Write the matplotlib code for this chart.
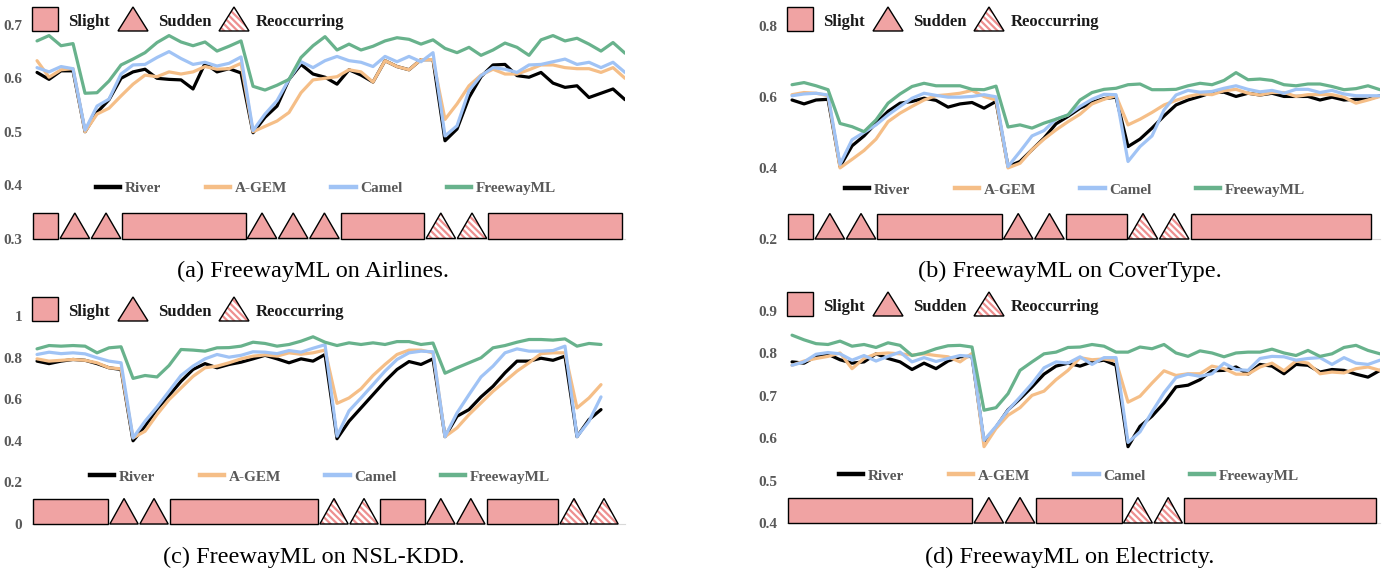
import matplotlib
matplotlib.use('Agg')
import matplotlib.pyplot as plt
from matplotlib.patches import Polygon
from matplotlib.lines import Line2D

plt.rcParams['font.family'] = ['Liberation Serif', 'DejaVu Serif']
plt.rcParams['hatch.linewidth'] = 1.6

# ---------------- data ----------------
SERIES = ['River', 'A-GEM', 'Camel', 'FreewayML']
COLORS = ['#000000', '#F5BE87', '#A0C3F5', '#68B28C']
DRIFT_LABELS = ['Slight', 'Sudden', 'Reoccurring']

# (a) Airlines
a_river = [0.611, 0.598, 0.614, 0.614, 0.500, 0.536, 0.560, 0.600, 0.612, 0.617,
           0.600, 0.598, 0.597, 0.580, 0.628, 0.612, 0.618, 0.610, 0.498, 0.527,
           0.548, 0.598, 0.626, 0.608, 0.602, 0.589, 0.616, 0.606, 0.593, 0.633,
           0.622, 0.616, 0.635, 0.635, 0.483, 0.505, 0.564, 0.603, 0.625, 0.626,
           0.605, 0.602, 0.611, 0.591, 0.583, 0.586, 0.564, 0.572, 0.580, 0.560]
a_agem = [0.633, 0.602, 0.616, 0.618, 0.500, 0.533, 0.544, 0.567, 0.589, 0.606,
          0.603, 0.612, 0.608, 0.612, 0.622, 0.617, 0.618, 0.628, 0.500, 0.510,
          0.520, 0.536, 0.573, 0.597, 0.600, 0.603, 0.616, 0.612, 0.593, 0.633,
          0.622, 0.616, 0.635, 0.635, 0.523, 0.552, 0.586, 0.606, 0.617, 0.608,
          0.608, 0.616, 0.625, 0.625, 0.620, 0.618, 0.618, 0.611, 0.620, 0.600]
a_camel = [0.620, 0.612, 0.622, 0.618, 0.503, 0.548, 0.561, 0.608, 0.625, 0.626,
           0.639, 0.650, 0.637, 0.626, 0.630, 0.623, 0.628, 0.640, 0.502, 0.533,
           0.558, 0.598, 0.631, 0.620, 0.633, 0.641, 0.633, 0.630, 0.622, 0.641,
           0.631, 0.641, 0.631, 0.648, 0.492, 0.511, 0.577, 0.605, 0.620, 0.617,
           0.611, 0.625, 0.626, 0.631, 0.636, 0.626, 0.630, 0.620, 0.630, 0.611]
a_freeway = [0.670, 0.680, 0.661, 0.665, 0.572, 0.573, 0.595, 0.625, 0.636, 0.648,
             0.667, 0.680, 0.668, 0.661, 0.668, 0.651, 0.660, 0.670, 0.585, 0.578,
             0.587, 0.598, 0.639, 0.661, 0.678, 0.653, 0.664, 0.653, 0.660, 0.670,
             0.676, 0.673, 0.664, 0.672, 0.656, 0.648, 0.658, 0.643, 0.653, 0.666,
             0.658, 0.643, 0.672, 0.680, 0.670, 0.675, 0.664, 0.651, 0.667, 0.647]
a_drift_kinds = ['Slight', 'Sudden', 'Sudden', 'Slight', 'Sudden', 'Sudden', 'Sudden',
                 'Slight', 'Reoccurring', 'Reoccurring', 'Slight']
a_drift_len = [2.25, 2.6, 2.6, 10.4, 2.6, 2.6, 2.6, 7.1, 2.6, 2.6, 11.3]
a_ticks = [0.3, 0.4, 0.5, 0.6, 0.7]
a_ticklabels = ['0.3', '0.4', '0.5', '0.6', '0.7']

# (b) CoverType
b_river = [0.591, 0.580, 0.591, 0.593, 0.404, 0.462, 0.490, 0.526, 0.559, 0.582,
           0.587, 0.596, 0.590, 0.571, 0.580, 0.584, 0.568, 0.587, 0.404, 0.418,
           0.451, 0.484, 0.524, 0.545, 0.568, 0.584, 0.595, 0.599, 0.460, 0.481,
           0.512, 0.546, 0.577, 0.591, 0.601, 0.612, 0.613, 0.601, 0.610, 0.605,
           0.610, 0.601, 0.601, 0.601, 0.591, 0.599, 0.591, 0.593, 0.593, 0.603]
b_agem = [0.606, 0.612, 0.610, 0.603, 0.400, 0.424, 0.449, 0.481, 0.530, 0.554,
          0.573, 0.591, 0.603, 0.606, 0.610, 0.618, 0.601, 0.591, 0.400, 0.413,
          0.451, 0.481, 0.507, 0.530, 0.551, 0.580, 0.593, 0.603, 0.521, 0.537,
          0.556, 0.577, 0.590, 0.601, 0.608, 0.606, 0.617, 0.621, 0.610, 0.605,
          0.612, 0.612, 0.601, 0.606, 0.606, 0.606, 0.599, 0.582, 0.591, 0.601]
b_camel = [0.603, 0.608, 0.610, 0.605, 0.410, 0.479, 0.500, 0.521, 0.549, 0.573,
           0.596, 0.610, 0.604, 0.599, 0.599, 0.601, 0.606, 0.600, 0.404, 0.446,
           0.490, 0.505, 0.537, 0.549, 0.573, 0.593, 0.607, 0.606, 0.418, 0.460,
           0.490, 0.563, 0.605, 0.618, 0.613, 0.615, 0.624, 0.631, 0.621, 0.614,
           0.618, 0.610, 0.621, 0.621, 0.612, 0.618, 0.608, 0.603, 0.603, 0.603]
b_freeway = [0.634, 0.640, 0.631, 0.620, 0.525, 0.516, 0.502, 0.535, 0.582, 0.608,
             0.629, 0.638, 0.631, 0.631, 0.631, 0.621, 0.620, 0.630, 0.515, 0.521,
             0.512, 0.526, 0.537, 0.549, 0.591, 0.612, 0.621, 0.624, 0.634, 0.636,
             0.620, 0.620, 0.621, 0.631, 0.638, 0.634, 0.646, 0.668, 0.648, 0.650,
             0.646, 0.634, 0.631, 0.636, 0.636, 0.629, 0.620, 0.623, 0.631, 0.620]
b_drift_kinds = ['Slight', 'Sudden', 'Sudden', 'Slight', 'Sudden', 'Sudden',
                 'Slight', 'Reoccurring', 'Reoccurring', 'Slight']
b_drift_len = [2.25, 2.6, 2.6, 10.5, 2.6, 2.6, 5.2, 2.6, 2.6, 15.2]
b_ticks = [0.2, 0.4, 0.6, 0.8]
b_ticklabels = ['0.2', '0.4', '0.6', '0.8']

# (c) NSL-KDD
c_river = [0.783, 0.771, 0.783, 0.791, 0.787, 0.771, 0.751, 0.743, 0.400, 0.470,
           0.553, 0.618, 0.686, 0.743, 0.771, 0.751, 0.767, 0.778, 0.794, 0.811,
           0.794, 0.775, 0.794, 0.783, 0.815, 0.410, 0.494, 0.558, 0.622, 0.686,
           0.743, 0.781, 0.767, 0.794, 0.420, 0.518, 0.550, 0.611, 0.662, 0.727,
           0.783, 0.783, 0.797, 0.787, 0.807, 0.420, 0.502, 0.550]
c_agem = [0.794, 0.783, 0.787, 0.791, 0.787, 0.775, 0.751, 0.746, 0.414, 0.446,
          0.526, 0.598, 0.654, 0.710, 0.751, 0.759, 0.775, 0.794, 0.807, 0.813,
          0.807, 0.823, 0.816, 0.823, 0.836, 0.580, 0.606, 0.650, 0.714, 0.767,
          0.815, 0.836, 0.836, 0.823, 0.420, 0.462, 0.526, 0.582, 0.638, 0.686,
          0.735, 0.775, 0.819, 0.823, 0.823, 0.558, 0.606, 0.670]
c_camel = [0.815, 0.826, 0.819, 0.823, 0.818, 0.799, 0.783, 0.775, 0.414, 0.494,
           0.563, 0.638, 0.714, 0.759, 0.794, 0.815, 0.802, 0.811, 0.828, 0.826,
           0.819, 0.834, 0.826, 0.845, 0.862, 0.422, 0.544, 0.606, 0.670, 0.735,
           0.791, 0.823, 0.831, 0.828, 0.420, 0.534, 0.622, 0.707, 0.759, 0.823,
           0.842, 0.831, 0.831, 0.834, 0.855, 0.420, 0.494, 0.611]
c_freeway = [0.842, 0.858, 0.855, 0.858, 0.855, 0.823, 0.847, 0.852, 0.700, 0.714,
             0.707, 0.762, 0.839, 0.836, 0.831, 0.847, 0.848, 0.855, 0.874, 0.868,
             0.855, 0.863, 0.879, 0.900, 0.874, 0.858, 0.871, 0.863, 0.871, 0.863,
             0.877, 0.877, 0.863, 0.870, 0.725, 0.751, 0.775, 0.799, 0.847, 0.858,
             0.874, 0.887, 0.887, 0.884, 0.890, 0.855, 0.868, 0.863]
c_drift_kinds = ['Slight', 'Sudden', 'Sudden', 'Slight', 'Reoccurring', 'Reoccurring',
                 'Slight', 'Sudden', 'Sudden', 'Slight', 'Reoccurring', 'Reoccurring']
c_drift_len = [6.4, 2.5, 2.5, 12.5, 2.5, 2.5, 3.9, 2.5, 2.5, 6.1, 2.5, 2.5]
c_ticks = [0, 0.2, 0.4, 0.6, 0.8, 1.0]
c_ticklabels = ['0', '0.2', '0.4', '0.6', '0.8', '1']

# (d) Electricity
d_river = [0.780, 0.777, 0.793, 0.798, 0.785, 0.777, 0.780, 0.799, 0.788, 0.780,
           0.762, 0.777, 0.764, 0.782, 0.792, 0.793, 0.590, 0.626, 0.667, 0.693,
           0.721, 0.751, 0.770, 0.777, 0.770, 0.780, 0.784, 0.772, 0.580, 0.628,
           0.652, 0.683, 0.721, 0.725, 0.738, 0.759, 0.760, 0.768, 0.751, 0.774,
           0.770, 0.752, 0.774, 0.772, 0.756, 0.762, 0.760, 0.751, 0.744, 0.760]
d_agem = [0.772, 0.782, 0.788, 0.793, 0.801, 0.764, 0.788, 0.799, 0.801, 0.799,
          0.796, 0.799, 0.795, 0.792, 0.780, 0.800, 0.580, 0.623, 0.654, 0.672,
          0.701, 0.711, 0.738, 0.760, 0.790, 0.785, 0.787, 0.782, 0.685, 0.699,
          0.730, 0.759, 0.748, 0.752, 0.752, 0.770, 0.764, 0.751, 0.751, 0.768,
          0.777, 0.759, 0.782, 0.777, 0.752, 0.756, 0.754, 0.764, 0.768, 0.760]
d_camel = [0.772, 0.780, 0.798, 0.802, 0.799, 0.784, 0.795, 0.782, 0.793, 0.803,
           0.780, 0.790, 0.781, 0.788, 0.795, 0.793, 0.595, 0.628, 0.666, 0.697,
           0.729, 0.766, 0.780, 0.777, 0.792, 0.774, 0.790, 0.790, 0.590, 0.615,
           0.662, 0.707, 0.743, 0.751, 0.746, 0.752, 0.777, 0.762, 0.760, 0.788,
           0.793, 0.792, 0.784, 0.788, 0.790, 0.774, 0.790, 0.777, 0.774, 0.784]
d_freeway = [0.843, 0.832, 0.823, 0.821, 0.829, 0.817, 0.821, 0.814, 0.825, 0.819,
             0.795, 0.801, 0.811, 0.818, 0.819, 0.815, 0.666, 0.672, 0.705, 0.760,
             0.780, 0.799, 0.803, 0.814, 0.815, 0.821, 0.817, 0.803, 0.803, 0.815,
             0.811, 0.821, 0.801, 0.793, 0.806, 0.801, 0.792, 0.801, 0.803, 0.803,
             0.810, 0.801, 0.795, 0.807, 0.793, 0.799, 0.814, 0.819, 0.807, 0.799]
d_drift_kinds = ['Slight', 'Sudden', 'Sudden', 'Slight', 'Reoccurring', 'Reoccurring', 'Slight']
d_drift_len = [15.5, 2.6, 2.6, 7.25, 2.55, 2.5, 16.1]
d_ticks = [0.4, 0.5, 0.6, 0.7, 0.8, 0.9]
d_ticklabels = ['0.4', '0.5', '0.6', '0.7', '0.8', '0.9']

CAPTIONS = ['(a) FreewayML on Airlines.', '(b) FreewayML on CoverType.',
            '(c) FreewayML on NSL-KDD.', '(d) FreewayML on Electricty.']

# ---------------- layout ----------------
W, H = 1396, 574
fig = plt.figure(figsize=(W / 100, H / 100), dpi=100)

DRIFT_FILL = '#F0A3A3'
HATCH_COLOR = '#EE8F8F'
GRAY = '#595959'
XLIM = (-0.42, 49.0)
DRIFT_START = -0.4
BAND_PX = 25.5

panels = [
    dict(series=[a_river, a_agem, a_camel, a_freeway], kinds=a_drift_kinds, lens=a_drift_len,
         ticks=a_ticks, labels=a_ticklabels, left=32, bottom=238.5, ppu=534, ylim=(0.3, 0.74),
         leg=(326, 188), dleg=(32, 7), cap=(313, 271)),
    dict(series=[b_river, b_agem, b_camel, b_freeway], kinds=b_drift_kinds, lens=b_drift_len,
         ticks=b_ticks, labels=b_ticklabels, left=787, bottom=239, ppu=355.5, ylim=(0.2, 0.85),
         leg=(1075, 190), dleg=(787, 7), cap=(1070, 271)),
    dict(series=[c_river, c_agem, c_camel, c_freeway], kinds=c_drift_kinds, lens=c_drift_len,
         ticks=c_ticks, labels=c_ticklabels, left=32, bottom=524, ppu=208, ylim=(0.0, 1.1),
         leg=(320, 477), dleg=(32, 297), cap=(314, 557)),
    dict(series=[d_river, d_agem, d_camel, d_freeway], kinds=d_drift_kinds, lens=d_drift_len,
         ticks=d_ticks, labels=d_ticklabels, left=787, bottom=523, ppu=424, ylim=(0.4, 0.93),
         leg=(1069, 476), dleg=(787, 292), cap=(1070, 557)),
]

AX_W_PX = 593


def draw_shape(ax, kind, x0, x1, y0, h):
    if kind == 'Slight':
        pts = [(x0, y0), (x1, y0), (x1, y0 + h), (x0, y0 + h)]
    else:
        pts = [(x0, y0), (x1, y0), ((x0 + x1) / 2, y0 + h)]
    if kind == 'Reoccurring':
        ax.add_patch(Polygon(pts, closed=True, facecolor='white', edgecolor=HATCH_COLOR,
                             hatch='\\\\\\\\\\', lw=0, clip_on=False, zorder=3))
        ax.add_patch(Polygon(pts, closed=True, fill=False, edgecolor='black', lw=1.0,
                             clip_on=False, zorder=4))
    else:
        ax.add_patch(Polygon(pts, closed=True, facecolor=DRIFT_FILL, edgecolor='black',
                             lw=1.0, clip_on=False, zorder=3))


for p in panels:
    y0, y1 = p['ylim']
    top_px = p['bottom'] - (y1 - y0) * p['ppu']
    ax = fig.add_axes([p['left'] / W, 1 - p['bottom'] / H, AX_W_PX / W,
                       (p['bottom'] - top_px) / H])
    ax.set_xlim(*XLIM)
    ax.set_ylim(y0, y1)
    for vals, col in zip(p['series'], COLORS):
        ax.plot(range(len(vals)), vals, color=col, lw=2.3, solid_joinstyle='round',
                solid_capstyle='round', zorder=2)
    # drift band
    h = BAND_PX / p['ppu']
    gap = 0.07
    x = DRIFT_START
    for kind, ln in zip(p['kinds'], p['lens']):
        draw_shape(ax, kind, x + gap, x + ln - gap, y0, h)
        x += ln
    ax.set_xticks([])
    ax.set_yticks(p['ticks'])
    ax.set_yticklabels(p['labels'], fontsize=11, fontweight='bold', color=GRAY)
    ax.tick_params(axis='y', length=0, pad=7)
    for s in ['top', 'right', 'left']:
        ax.spines[s].set_visible(False)
    ax.spines['bottom'].set_color('#D9D9D9')
    handles = [Line2D([0], [0], color=c, lw=3.2) for c in COLORS]
    ax.legend(handles, SERIES, loc='center',
              bbox_to_anchor=(p['leg'][0] / W, 1 - p['leg'][1] / H),
              bbox_transform=fig.transFigure, ncol=4, frameon=False,
              prop={'weight': 'bold', 'size': 11}, labelcolor=GRAY,
              handlelength=1.6, handletextpad=0.3, columnspacing=2.9)

# overlay in pixel coordinates for drift legends and captions
ov = fig.add_axes([0, 0, 1, 1])
ov.set_xlim(0, W)
ov.set_ylim(H, 0)
ov.axis('off')
ov.patch.set_alpha(0)

for p in panels:
    lx, ty = p['dleg']
    draw_shape(ov, 'Slight', lx, lx + 26, ty + 24, -24)
    ov.text(lx + 36, ty + 19, DRIFT_LABELS[0], fontsize=12, fontweight='bold',
            color='#1a1a1a', ha='left', va='baseline')
    draw_shape(ov, 'Sudden', lx + 86, lx + 116, ty + 24, -24)
    ov.text(lx + 126, ty + 19, DRIFT_LABELS[1], fontsize=12, fontweight='bold',
            color='#1a1a1a', ha='left', va='baseline')
    draw_shape(ov, 'Reoccurring', lx + 187, lx + 217, ty + 24, -24)
    ov.text(lx + 224, ty + 19, DRIFT_LABELS[2], fontsize=12, fontweight='bold',
            color='#1a1a1a', ha='left', va='baseline')

for p, cap in zip(panels, CAPTIONS):
    ov.text(p['cap'][0], p['cap'][1], cap, fontsize=17.5, ha='center', va='center',
            color='black')

fig.savefig('out.png', dpi=100)
